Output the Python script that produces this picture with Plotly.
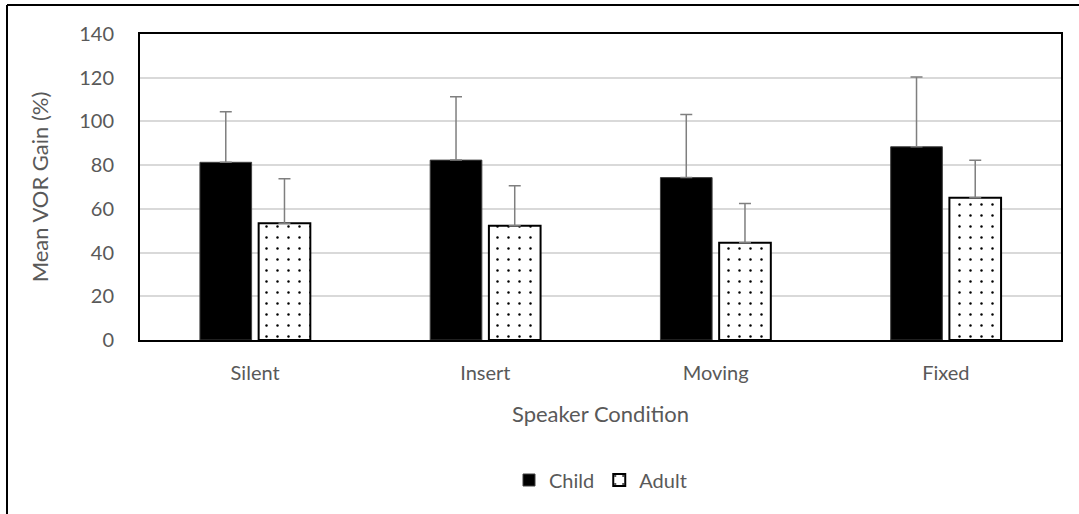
import plotly.graph_objects as go

categories = ["Silent", "Insert", "Moving", "Fixed"]
child_mean = [81.3, 82.3, 74.3, 88.4]
child_err = [23.1, 29.0, 28.9, 31.9]
adult_mean = [53.4, 52.3, 44.5, 65.1]
adult_err = [20.4, 18.3, 18.0, 17.1]
y_ticks = [0, 20, 40, 60, 80, 100, 120, 140]

W, H = 1079, 514
ML, MR, MT, MB = 140, 18, 34, 174
FONT = "Lato"
GRAY = "#595959"

fig = go.Figure()
fig.add_trace(go.Bar(
    name="Child", x=categories, y=child_mean,
    marker=dict(color="black", line=dict(color="#404040", width=1)),
    error_y=dict(type="data", array=child_err, symmetric=False,
                 arrayminus=[0]*4, color="#7f7f7f", thickness=1.5, width=6),
))
fig.add_trace(go.Bar(
    name="Adult", x=categories, y=adult_mean,
    marker=dict(color="white", line=dict(color="black", width=2),
                pattern=dict(shape=".", fgcolor="black", bgcolor="white",
                             fgopacity=1, size=11, solidity=0.04,
                             fillmode="overlay")),
    error_y=dict(type="data", array=adult_err, symmetric=False,
                 arrayminus=[0]*4, color="#7f7f7f", thickness=1.5, width=6),
))

pw = W - ML - MR
ph = H - MT - MB
# outer frame (left and top edges visible)
fx = (7 - ML) / pw
fy = (H - MB - 5) / ph
fig.add_shape(type="line", xref="paper", yref="paper", x0=fx, x1=fx,
              y0=fy, y1=(H - MB - 520) / ph, line=dict(color="black", width=2))
fig.add_shape(type="line", xref="paper", yref="paper", x0=fx, x1=(1090 - ML) / pw,
              y0=fy, y1=fy, line=dict(color="black", width=2))

fig.update_layout(
    width=W, height=H,
    margin=dict(l=ML, r=MR, t=MT, b=MB, autoexpand=False),
    paper_bgcolor="white", plot_bgcolor="white",
    barmode="group", bargap=0.49, bargroupgap=0.12,
    font=dict(family=FONT, color=GRAY, size=20),
    showlegend=True,
    legend=dict(orientation="h", x=0.5, xanchor="center", y=(340 - 480) / ph,
                yanchor="middle", font=dict(size=20, color=GRAY),
                itemwidth=30, traceorder="normal"),
    xaxis=dict(showline=True, mirror=True, linecolor="black", linewidth=2,
               showgrid=False, ticks="", ticklabelstandoff=14,
               title=dict(text="Speaker Condition", font=dict(size=22, color=GRAY),
                          standoff=24),
               automargin=False),
    yaxis=dict(range=[0, 140], tickvals=y_ticks, showline=True, mirror=True,
               linecolor="black", linewidth=2, showgrid=True,
               gridcolor="#d9d9d9", gridwidth=1.5, zeroline=False, ticks="",
               ticklabelstandoff=20,
               title=dict(text="Mean VOR Gain (%)", font=dict(size=22, color=GRAY),
                          standoff=24),
               automargin=False),
)

fig.write_html("out.html")
